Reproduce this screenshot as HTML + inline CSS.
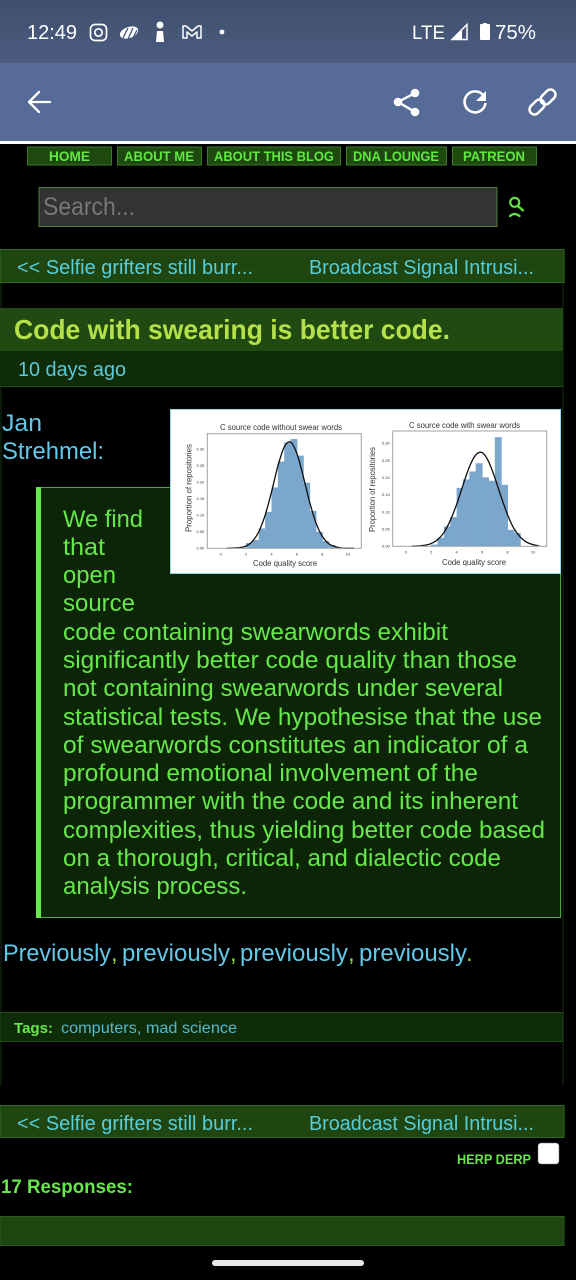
<!DOCTYPE html>
<html lang="en">
<head>
<meta charset="utf-8">
<title>Code with swearing is better code.</title>
<style>
html,body{margin:0;padding:0;background:#000;width:576px;height:1280px;overflow:hidden}
svg{display:block;font-family:"Liberation Sans",sans-serif}
.lnk{fill:#58cdd8;font-size:20px}
.q{fill:#66e84a;font-size:24px}
.blue{fill:#62c8e8;font-size:24px}
.nav{fill:#5fe83f;font-size:14px;font-weight:bold}
.btn{fill:#1e4a10;stroke:#3c7a2c;stroke-width:1}
.ic{fill:none;stroke:#fff;stroke-linecap:round;stroke-linejoin:round}
.ct{fill:#333;font-size:8px}
.tk{fill:#333;font-size:4px}
</style>
</head>
<body>
<svg xmlns="http://www.w3.org/2000/svg" width="576" height="1280" viewBox="0 0 576 1280">
<defs>
<linearGradient id="statusGrad" x1="0" y1="0" x2="0" y2="1"><stop offset="0" stop-color="#3f4f6d"/><stop offset="1" stop-color="#4b5c80"/></linearGradient>
<filter id="soften" x="-2%" y="-2%" width="104%" height="104%"><feGaussianBlur stdDeviation="0.35"/></filter>
</defs>
<rect width="576" height="1280" fill="#000"/>

<g>
<rect width="576" height="63" fill="url(#statusGrad)"/>
<text x="27" y="39" fill="#fff" font-size="20" textLength="50" lengthAdjust="spacingAndGlyphs">12:49</text>
<g><rect class="ic" x="90.500" y="24.500" width="16" height="16" rx="4.500" stroke-width="1.700"/><circle class="ic" cx="98.500" cy="32.500" r="3.700" stroke-width="1.700"/></g>
<g><ellipse cx="129" cy="32.500" rx="9.500" ry="5.500" fill="#fff" transform="rotate(-20 129 32.500)"/><path d="M123 38l5-10M128 39l5-11M133 38l4-8" stroke="#46577a" stroke-width="1.300" fill="none"/></g>
<g fill="#fff"><circle cx="160" cy="25" r="3.500"/><path d="M157 31h6l1 11h-8z"/></g>
<path class="ic" d="M183 38V26h3l6 5 6-5h3v12h-4v-6l-5 4-5-4v6z" stroke-width="1.500"/>
<circle cx="222" cy="32" r="2.400" fill="#fff"/>
<text x="412" y="39" fill="#fff" font-size="19.500" textLength="33" lengthAdjust="spacingAndGlyphs">LTE</text>
<g><path d="M467 24.500v15h-15z" fill="none" stroke="#fff" stroke-width="1.500"/><path d="M462 30v10h-10z" fill="#fff"/></g>
<path d="M481 24h2v-1h4v1h2a1 1 0 0 1 1 1v14a1 1 0 0 1-1 1h-8a1 1 0 0 1-1-1V25a1 1 0 0 1 1-1z" fill="#fff"/>
<text x="495" y="39" fill="#fff" font-size="20" textLength="41" lengthAdjust="spacingAndGlyphs">75%</text>
</g>

<g>
<rect y="63" width="576" height="78" fill="#566b98"/>
<rect y="141" width="576" height="3" fill="#fff"/>
<path class="ic" d="M29 102h21M39 92l-10 10 10 10" stroke-width="2.300"/>
<g><path d="M415 93l-17 9 17 10" fill="none" stroke="#fff" stroke-width="2.400"/><circle cx="415" cy="93" r="4.300" fill="#fff"/><circle cx="398" cy="102" r="4.300" fill="#fff"/><circle cx="415" cy="112" r="4.300" fill="#fff"/></g>
<g><path d="M483 95a10.500 10.500 0 1 0 2.500 8" fill="none" stroke="#fff" stroke-width="2.600"/><path d="M486 91v10h-10z" fill="#fff"/></g>
<g fill="none" stroke="#fff" stroke-width="2.500"><rect x="528.500" y="102" width="17" height="10" rx="5" transform="rotate(-45 537 107)"/><rect x="539.500" y="92" width="17" height="10" rx="5" transform="rotate(-45 548 97)"/></g>
</g>

<g>
<g><rect class="btn" x="27.500" y="147" width="84" height="18"/><text class="nav" x="49" y="161" textLength="41" lengthAdjust="spacingAndGlyphs">HOME</text></g>
<g><rect class="btn" x="117.500" y="147" width="84" height="18"/><text class="nav" x="124" y="161" textLength="70" lengthAdjust="spacingAndGlyphs">ABOUT ME</text></g>
<g><rect class="btn" x="207.500" y="147" width="133" height="18"/><text class="nav" x="214" y="161" textLength="120" lengthAdjust="spacingAndGlyphs">ABOUT THIS BLOG</text></g>
<g><rect class="btn" x="346.500" y="147" width="100" height="18"/><text class="nav" x="353" y="161" textLength="86" lengthAdjust="spacingAndGlyphs">DNA LOUNGE</text></g>
<g><rect class="btn" x="452.500" y="147" width="84" height="18"/><text class="nav" x="463" y="161" textLength="62" lengthAdjust="spacingAndGlyphs">PATREON</text></g>
</g>

<g>
<g><rect x="39" y="187.500" width="458" height="39" fill="#333" stroke="#4d7d3d"/><text x="43" y="215" fill="#777" font-size="25" textLength="92" lengthAdjust="spacingAndGlyphs">Search...</text></g>
<g fill="none" stroke="#5fe83f" stroke-width="2.200" stroke-linecap="round"><circle cx="514.700" cy="202.300" r="4.500"/><path d="M518 206l5 4.500M510 216q4.700-4 9.500 0"/></g>
</g>

<g>
<rect y="249.500" width="564" height="33" fill="#1f4510" stroke="#2e6a20"/>
<text class="lnk" x="17" y="274" textLength="236" lengthAdjust="spacingAndGlyphs">&lt;&lt; Selfie grifters still burr...</text>
<text class="lnk" x="309" y="274" textLength="225" lengthAdjust="spacingAndGlyphs">Broadcast Signal Intrusi...</text>
</g>

<path d="M1 283V1086M563 283V1086" stroke="#143010" stroke-width="1" fill="none"/>

<g>
<rect y="308" width="563" height="43" fill="#214a12"/>
<text x="14" y="339" fill="#b4e04a" font-size="27.500" font-weight="bold" textLength="436" lengthAdjust="spacingAndGlyphs">Code with swearing is better code.</text>
<rect y="351" width="563" height="35" fill="#0f2c08"/>
<path d="M0 386.500H563" stroke="#234a18"/>
<text x="18" y="376" fill="#5cc8d8" font-size="20" textLength="108" lengthAdjust="spacingAndGlyphs">10 days ago</text>
</g>

<text class="blue" x="2" y="431" textLength="40" lengthAdjust="spacingAndGlyphs">Jan</text>
<text class="blue" x="2" y="459" textLength="102" lengthAdjust="spacingAndGlyphs">Strehmel:</text>

<g>
<rect x="36.500" y="487.500" width="524" height="430" fill="#0c2506" stroke="#4aa83a"/>
<rect x="36" y="487" width="5" height="431" fill="#66e84a"/>
<g>
<text class="q" x="63" y="527" textLength="80" lengthAdjust="spacingAndGlyphs">We find</text>
<text class="q" x="63" y="555" textLength="42" lengthAdjust="spacingAndGlyphs">that</text>
<text class="q" x="63" y="583" textLength="53" lengthAdjust="spacingAndGlyphs">open</text>
<text class="q" x="63" y="611" textLength="72" lengthAdjust="spacingAndGlyphs">source</text>
<text class="q" x="63" y="640" textLength="385" lengthAdjust="spacingAndGlyphs">code containing swearwords exhibit</text>
<text class="q" x="63" y="668" textLength="454" lengthAdjust="spacingAndGlyphs">significantly better code quality than those</text>
<text class="q" x="63" y="696" textLength="440" lengthAdjust="spacingAndGlyphs">not containing swearwords under several</text>
<text class="q" x="63" y="725" textLength="479" lengthAdjust="spacingAndGlyphs">statistical tests. We hypothesise that the use</text>
<text class="q" x="63" y="753" textLength="465" lengthAdjust="spacingAndGlyphs">of swearwords constitutes an indicator of a</text>
<text class="q" x="63" y="781" textLength="415" lengthAdjust="spacingAndGlyphs">profound emotional involvement of the</text>
<text class="q" x="63" y="809" textLength="455" lengthAdjust="spacingAndGlyphs">programmer with the code and its inherent</text>
<text class="q" x="63" y="838" textLength="482" lengthAdjust="spacingAndGlyphs">complexities, thus yielding better code based</text>
<text class="q" x="63" y="866" textLength="438" lengthAdjust="spacingAndGlyphs">on a thorough, critical, and dialectic code</text>
<text class="q" x="63" y="894" textLength="184" lengthAdjust="spacingAndGlyphs">analysis process.</text>
</g>
</g>

<g>
<rect x="170.500" y="409.500" width="390" height="164" fill="#fff" stroke="#8fdde8"/>
<g id="chart-left" filter="url(#soften)">
<text class="ct" x="220" y="430" textLength="122" lengthAdjust="spacingAndGlyphs">C source code without swear words</text>
<text class="ct" x="-532" y="191.500" transform="rotate(-90)" textLength="88" lengthAdjust="spacingAndGlyphs">Proportion of repositories</text>
<text class="ct" x="253" y="566" textLength="64" lengthAdjust="spacingAndGlyphs">Code quality score</text>
</g>
<g id="chart-right" filter="url(#soften)">
<text class="ct" x="409" y="428" textLength="111" lengthAdjust="spacingAndGlyphs">C source code with swear words</text>
<text class="ct" x="-532" y="375" transform="rotate(-90)" textLength="85" lengthAdjust="spacingAndGlyphs">Proportion of repositories</text>
<text class="ct" x="442" y="565" textLength="64" lengthAdjust="spacingAndGlyphs">Code quality score</text>
</g>
</g>

<g>
<text class="blue" x="3" y="961" textLength="108" lengthAdjust="spacingAndGlyphs">Previously</text>
<text x="111" y="961" fill="#8bd04a" font-size="24">,</text>
<text class="blue" x="122" y="961" textLength="108" lengthAdjust="spacingAndGlyphs">previously</text>
<text x="230" y="961" fill="#8bd04a" font-size="24">,</text>
<text class="blue" x="240" y="961" textLength="108" lengthAdjust="spacingAndGlyphs">previously</text>
<text x="348" y="961" fill="#8bd04a" font-size="24">,</text>
<text class="blue" x="359" y="961" textLength="108" lengthAdjust="spacingAndGlyphs">previously</text>
<text x="466" y="961" fill="#8bd04a" font-size="24">.</text>
</g>

<g>
<rect y="1012.500" width="563" height="29" fill="#0f2c08" stroke="#234a18"/>
<text x="14" y="1033" fill="#66e84a" font-size="15" font-weight="bold" textLength="39" lengthAdjust="spacingAndGlyphs">Tags:</text>
<text x="61" y="1033" fill="#58b8cc" font-size="16" textLength="176" lengthAdjust="spacingAndGlyphs">computers, mad science</text>
</g>

<g>
<rect y="1105.500" width="564" height="32" fill="#1f4510" stroke="#2e6a20"/>
<text class="lnk" x="17" y="1130" textLength="236" lengthAdjust="spacingAndGlyphs">&lt;&lt; Selfie grifters still burr...</text>
<text class="lnk" x="309" y="1130" textLength="225" lengthAdjust="spacingAndGlyphs">Broadcast Signal Intrusi...</text>
</g>

<text x="457" y="1164" fill="#66e84a" font-size="13.500" font-weight="bold" textLength="74" lengthAdjust="spacingAndGlyphs">HERP DERP</text>
<rect x="538" y="1143" width="21" height="21" rx="3" fill="#fff" stroke="#777" stroke-width="0.500"/>
<text x="1" y="1193" fill="#66e84a" font-size="19" font-weight="bold" textLength="132" lengthAdjust="spacingAndGlyphs">17 Responses:</text>
<rect y="1216.500" width="564" height="29" fill="#1f4510" stroke="#2a5c1a"/>
<rect x="212" y="1260" width="152" height="6" rx="3" fill="#e8e8e8"/>
</svg>

<script>
var binStarts = [2, 2.5, 3, 3.5, 4, 4.5, 5, 5.5, 6, 6.5, 7, 7.5, 8, 8.5];
var binWidth = 0.5;
var leftBars = [0.016, 0.025, 0.06, 0.11, 0.184, 0.262, 0.32, 0.33, 0.28, 0.198, 0.113, 0.05, 0.022, 0.01];
var rightBars = [0.005, 0.025, 0.058, 0.085, 0.17, 0.195, 0.218, 0.242, 0.201, 0.191, 0.318, 0.179, 0.048, 0.039];
var curveX = [0.5, 1, 1.5, 2, 2.5, 3, 3.5, 4, 4.5, 5, 5.5, 6, 6.5, 7, 7.5, 8, 8.5, 9, 9.5, 10, 10.5];
var leftCurve = [0, 0.001, 0.002, 0.007, 0.021, 0.05, 0.1, 0.17, 0.248, 0.306, 0.321, 0.286, 0.217, 0.14, 0.077, 0.036, 0.014, 0.005, 0.001, 0, 0];
var rightCurve = [0, 0.001, 0.003, 0.008, 0.019, 0.04, 0.075, 0.122, 0.178, 0.231, 0.266, 0.273, 0.248, 0.2, 0.144, 0.092, 0.052, 0.027, 0.012, 0.005, 0.001];
var xTicks = [0, 2, 4, 6, 8, 10];
var yTicks = [0, 0.05, 0.1, 0.15, 0.2, 0.25, 0.3];
var yTickLabels = ["0.00", "0.05", "0.10", "0.15", "0.20", "0.25", "0.30"];

var NS = "http://www.w3.org/2000/svg";

function drawChart(groupId, prefix, box, bars, curve) {
  var g = document.getElementById(groupId);
  function sx(v) { return box.x0 + v * box.xUnit; }
  function sy(v) { return box.bottom - v * box.yUnit; }
  function add(tag, attrs) {
    var e = document.createElementNS(NS, tag);
    for (var k in attrs) e.setAttribute(k, attrs[k]);
    g.appendChild(e);
    return e;
  }

  bars.forEach(function (value, i) {
    var bar = add("rect", {
      x: sx(binStarts[i]),
      y: sy(value),
      width: sx(binStarts[i] + binWidth) - sx(binStarts[i]) + 0.5,
      height: sy(0) - sy(value),
      fill: "#7ba7cd"
    });
    
    
  });

  var pts = curveX.map(function (x, i) { return [sx(x), sy(curve[i])]; });
  var d = "M" + pts[0][0] + " " + pts[0][1];
  for (var i = 0; i < pts.length - 1; i++) {
    var p0 = pts[Math.max(i - 1, 0)], p1 = pts[i], p2 = pts[i + 1], p3 = pts[Math.min(i + 2, pts.length - 1)];
    d += "C" + (p1[0] + (p2[0] - p0[0]) / 6) + " " + (p1[1] + (p2[1] - p0[1]) / 6) + " " +
         (p2[0] - (p3[0] - p1[0]) / 6) + " " + (p2[1] - (p3[1] - p1[1]) / 6) + " " + p2[0] + " " + p2[1];
  }
  var line = add("path", { d: d, fill: "none", stroke: "#111", "stroke-width": 1.3 });
  
  

  var frame = add("rect", {
    x: box.left, y: box.top, width: box.right - box.left, height: box.bottom - box.top,
    fill: "none", stroke: "#a0a0a0", "stroke-width": 1
  });
  
  

  xTicks.forEach(function (t) {
    var label = add("text", { x: sx(t), y: box.bottom + 7, "text-anchor": "middle", "class": "tk" });
    label.textContent = String(t);
    
    
  });
  yTicks.forEach(function (t, i) {
    var label = add("text", { x: box.left - 3, y: sy(t) + 1.3, "text-anchor": "end", "class": "tk" });
    label.textContent = yTickLabels[i];
    
    
  });
}

drawChart("chart-left", "left", { left: 207.3, right: 361.3, top: 433.7, bottom: 548.3, x0: 220.7, xUnit: 12.7, yUnit: 331 }, leftBars, leftCurve);
drawChart("chart-right", "right", { left: 392.7, right: 546.7, top: 431, bottom: 546.3, x0: 405.7, xUnit: 12.73, yUnit: 343.3 }, rightBars, rightCurve);
</script>
</body>
</html>
